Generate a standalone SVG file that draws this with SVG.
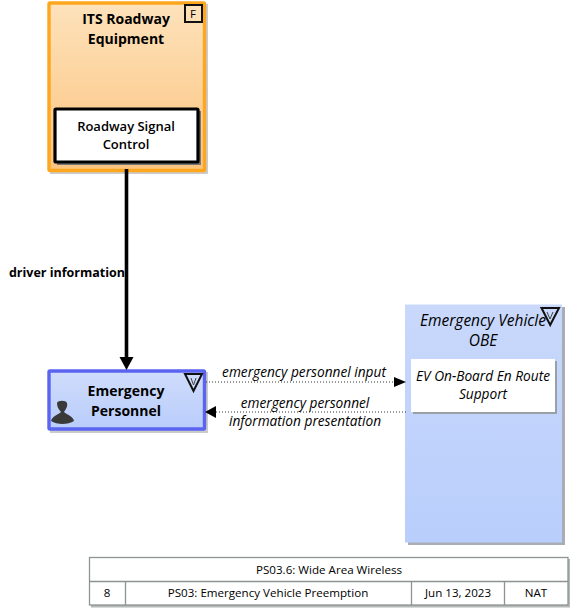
<svg xmlns="http://www.w3.org/2000/svg" width="572" height="609" viewBox="0 0 572 609">
<style>
text{font-family:"Open Sans","Noto Sans","Liberation Sans",sans-serif;fill:#000;text-anchor:middle}
.b{font-weight:700;font-size:14px}
.s{font-weight:600;font-size:13px}
.i{font-style:italic;font-size:13.700px}
.e{font-style:italic;font-size:15.500px}
.t{font-size:11.600px}
.ln{fill:none;stroke:#8c9490;stroke-width:1.300}
.dot{fill:none;stroke:#333;stroke-width:1;stroke-dasharray:1 2}
</style>
<defs>
<linearGradient id="og" x1="0" y1="0" x2="0" y2="1"><stop offset="0" stop-color="#fde2bb"/><stop offset="1" stop-color="#fdc47f"/></linearGradient>
<linearGradient id="bg" x1="0" y1="0" x2="0" y2="1"><stop offset="0" stop-color="#cfdcfb"/><stop offset="1" stop-color="#b9cdfb"/></linearGradient>
<linearGradient id="vg" x1="0" y1="0" x2="0" y2="1"><stop offset="0" stop-color="#c9d8fb"/><stop offset="1" stop-color="#b9cefc"/></linearGradient>
</defs>
<g id="its-roadway-equipment">
<rect x="50" y="4" width="158" height="170" fill="#a8a8a8" opacity=".6"/>
<rect x="49" y="3" width="155.500" height="167.500" rx="1" fill="url(#og)" stroke="#fda61e" stroke-width="3.400"/>
<rect x="185" y="5" width="17" height="17" fill="none" stroke="#111" stroke-width="2"/>
<text x="193" y="18" style="font-size:11.500px">F</text>
<text class="b" x="126" y="24">ITS Roadway</text>
<text class="b" x="126" y="44">Equipment</text>
<g id="roadway-signal-control">
<rect x="57" y="111" width="144" height="54" fill="#777"/>
<rect x="55" y="109" width="143" height="53" rx="1" fill="#fff" stroke="#000" stroke-width="3.200"/>
<text class="s" x="126" y="131">Roadway Signal</text>
<text class="s" x="126" y="149">Control</text>
</g>
</g>
<g id="emergency-personnel">
<rect x="50" y="372" width="158" height="61" fill="#a8a8a8" opacity=".6"/>
<rect x="49" y="371" width="155.500" height="58" rx="1" fill="url(#bg)" stroke="#5a64f0" stroke-width="3.400"/>
<path d="M185 374H202L193.500 391Z" fill="none" stroke="#111" stroke-width="2"/>
<path d="M191 378L193.500 385L196 378" fill="none" stroke="#444" stroke-width="1"/>
<text class="b" x="126" y="396">Emergency</text>
<text class="b" x="126" y="416">Personnel</text>
<path d="M51 421C52 416 58 415 61 412C58 409 57 406 57 403C58 400 66 400 67 403C68 406 66 409 64 412C67 415 73 416 74 421C68 425 57 425 51 421Z" fill="#3a3a3a"/>
</g>
<g id="emergency-vehicle-obe">
<rect x="408" y="307" width="157" height="238" fill="#a9adb5"/>
<rect x="405" y="304.500" width="157" height="238" fill="url(#vg)"/>
<path d="M541.500 308H559L550.200 325Z" fill="none" stroke="#111" stroke-width="2"/>
<path d="M547 312L550 319L553 312" fill="none" stroke="#444" stroke-width="1"/>
<text class="e" x="483" y="326">Emergency Vehicle</text>
<text class="e" x="483" y="346">OBE</text>
<g id="ev-on-board-en-route-support">
<rect x="413" y="361" width="144" height="53" fill="#9aa0a8"/>
<rect x="411" y="359" width="144" height="53" fill="#fff"/>
<text class="i" x="483" y="381">EV On-Board En Route</text>
<text class="i" x="483" y="399">Support</text>
</g>
</g>
<g id="connectors">
<path d="M126.500 169V358" fill="none" stroke="#000" stroke-width="3.600"/>
<path d="M119.500 357H133.500L126.500 370Z" fill="#000"/>
<path class="dot" d="M206 382H394"/>
<path d="M394 377L406 382L394 387Z" fill="#000"/>
<path class="dot" d="M216 412H406"/>
<path d="M216 406L205 412L216 418Z" fill="#000"/>
<text class="i" x="304" y="377">emergency personnel input</text>
<text class="i" x="305" y="408">emergency personnel</text>
<text class="i" x="305" y="426">information presentation</text>
<text x="67" y="277" style="font-weight:700;font-size:12.500px">driver information</text>
</g>
<g id="title-block">
<rect x="91" y="559" width="479" height="48.500" fill="#b4b8b6"/>
<rect x="89.500" y="557.500" width="478.500" height="47.500" fill="#fff" stroke="#8c9490" stroke-width="1.300"/>
<path class="ln" d="M89.500 581.500H568M125.500 581.500V605M411.500 581.500V605M504.500 581.500V605"/>
<text class="t" x="329" y="574">PS03.6: Wide Area Wireless</text>
<text class="t" x="107" y="597">8</text>
<text class="t" x="268" y="597">PS03: Emergency Vehicle Preemption</text>
<text class="t" x="458" y="597">Jun 13, 2023</text>
<text class="t" x="536" y="597">NAT</text>
</g>
</svg>
